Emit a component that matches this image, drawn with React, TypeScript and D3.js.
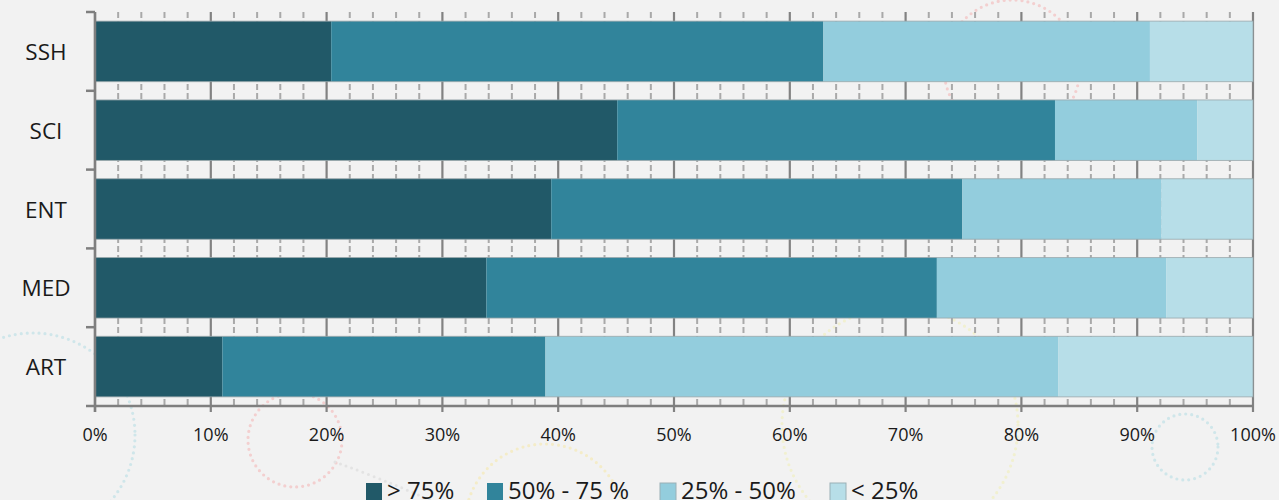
import React from "react";
import * as d3 from "d3";

const categories = ["SSH", "SCI", "ENT", "MED", "ART"];
const seriesNames = ["> 75%", "50% - 75 %", "25% - 50%", "< 25%"];
const seriesColors = ["#215968", "#31849b", "#93cddd", "#b7dee8"];
const above75 = [20.4, 45.1, 39.4, 33.8, 11.0];
const from50to75 = [42.5, 37.8, 35.5, 38.9, 27.9];
const from25to50 = [28.2, 12.3, 17.2, 19.8, 44.3];
const below25 = [8.9, 4.8, 7.9, 7.5, 16.8];
const tickValues = [0, 10, 20, 30, 40, 50, 60, 70, 80, 90, 100];

// decorative background circles [cx, cy, r, color]
const decoCircles: [number, number, number, string][] = [
  [33, 435, 102, "#cfe6ea"],
  [295, 440, 47, "#f3cfcf"],
  [1185, 447, 33, "#cfe6ea"],
  [545, 524, 80, "#f4ecc8"],
  [900, 425, 118, "#f1f0d0"],
  [1012, 68, 68, "#f3cfcf"],
];

const W = 1279;
const H = 500;
const left = 95;
const right = 1253;
const top = 12;
const bottom = 406;

export default function App() {
  const x = d3.scaleLinear().domain([0, 100]).range([left, right]);
  const y = d3
    .scaleBand<string>()
    .domain(categories)
    .range([top, bottom])
    .paddingInner(0.232)
    .paddingOuter(0.116);

  const rows = categories.map((c, i) => ({
    cat: c,
    v0: above75[i],
    v1: from50to75[i],
    v2: from25to50[i],
    v3: below25[i],
  }));
  const stack = d3.stack<any>().keys(["v0", "v1", "v2", "v3"]);
  const stacked = stack(rows);

  const minorTicks = d3.range(0, 101, 2).filter((v) => v % 10 !== 0);
  const step = y.step();
  const font = "'Open Sans', sans-serif";

  const legendX = [366, 487, 660, 830];

  return (
    <div style={{ position: "absolute", left: 0, top: 0 }}>
      <svg width={W} height={H} style={{ display: "block", background: "#f2f2f2" }}>
        <rect x={0} y={0} width={W} height={H} fill="#f2f2f2" />
        {decoCircles.map(([cx, cy, r, col], i) => (
          <circle
            key={"d" + i}
            cx={cx}
            cy={cy}
            r={r}
            fill="none"
            stroke={col}
            strokeWidth={3.2}
            strokeDasharray="0 6"
            strokeLinecap="round"
          />
        ))}
        <path
          d="M140,385 Q200,385 250,395 M335,462 Q380,478 430,500"
          fill="none"
          stroke="#e3e3e3"
          strokeWidth={3}
          strokeDasharray="0 6"
          strokeLinecap="round"
        />
        {/* minor gridlines */}
        {minorTicks.map((v) => (
          <line
            key={"m" + v}
            x1={x(v)}
            x2={x(v)}
            y1={top}
            y2={bottom}
            stroke="#a9a9a9"
            strokeWidth={2}
            strokeDasharray="6 3"
          />
        ))}
        {/* major gridlines */}
        {tickValues.map((v) => (
          <line
            key={"M" + v}
            x1={x(v)}
            x2={x(v)}
            y1={top}
            y2={bottom + 6}
            stroke="#828282"
            strokeWidth={2.2}
          />
        ))}
        {/* bars */}
        {stacked.map((s, si) => (
          <g key={"s" + si}>
            {s.map((d: any, i: number) => (
              <rect
                key={i}
                x={x(d[0])}
                y={y(categories[i])}
                width={x(d[1]) - x(d[0])}
                height={y.bandwidth()}
                fill={seriesColors[si]}
              />
            ))}
          </g>
        ))}
        {categories.map((c) => (
          <rect
            key={"o" + c}
            x={x(0)}
            y={y(c)}
            width={x(100) - x(0)}
            height={y.bandwidth()}
            fill="none"
            stroke="#9aa7ab"
            strokeWidth={1}
            opacity={0.8}
          />
        ))}
        {/* axes */}
        <line x1={left} x2={left} y1={top} y2={bottom + 6} stroke="#7f7f7f" strokeWidth={2.5} />
        <line x1={left - 9} x2={right} y1={bottom} y2={bottom} stroke="#7f7f7f" strokeWidth={2.5} />
        {categories.map((c, i) => (
          <line
            key={"ct" + i}
            x1={left - 9}
            x2={left}
            y1={(y(c) as number) - (step - y.bandwidth()) / 2}
            y2={(y(c) as number) - (step - y.bandwidth()) / 2}
            stroke="#7f7f7f"
            strokeWidth={2.5}
          />
        ))}
        {categories.map((c) => (
          <text
            key={"cl" + c}
            x={46}
            y={(y(c) as number) + y.bandwidth() / 2}
            textAnchor="middle"
            dominantBaseline="central"
            fontFamily={font}
            fontSize={22.5}
            fill="#1a1a1a"
          >
            {c}
          </text>
        ))}
        {tickValues.map((v) => (
          <text
            key={"tl" + v}
            x={x(v)}
            y={441}
            textAnchor="middle"
            fontFamily={font}
            fontSize={18}
            fill="#1a1a1a"
          >
            {v + "%"}
          </text>
        ))}
        {/* legend */}
        {seriesNames.map((n, i) => (
          <g key={"lg" + i}>
            <rect
              x={legendX[i]}
              y={483}
              width={16}
              height={18}
              fill={seriesColors[i]}
              stroke={i >= 2 ? "#9ab0b6" : "none"}
              strokeWidth={1}
            />
            <text
              x={legendX[i] + 21}
              y={499}
              fontFamily={font}
              fontSize={24}
              fill="#1a1a1a"
            >
              {n}
            </text>
          </g>
        ))}
      </svg>
    </div>
  );
}
